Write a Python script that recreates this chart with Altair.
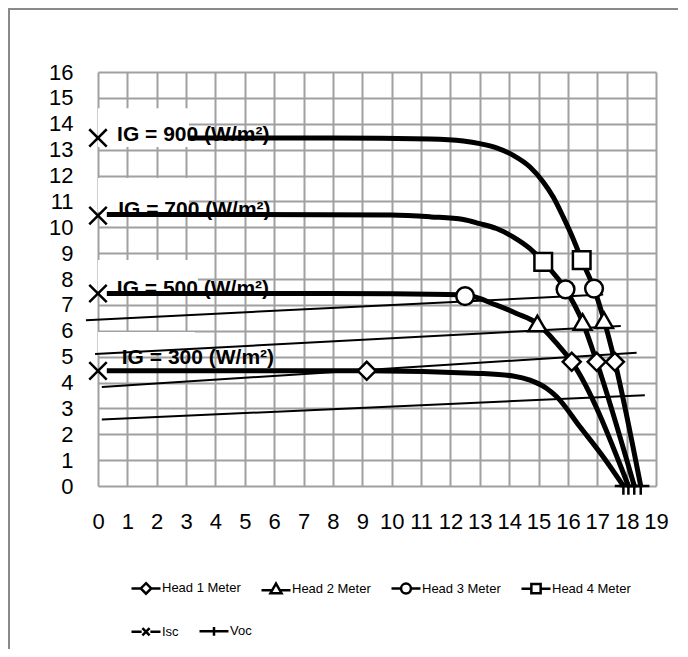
import altair as alt
import pandas as pd

# ---------------- data ----------------
# I-V curves (thick black lines), one per irradiance level
c900_x = [3.07, 5.0, 8.0, 11.3, 12.44, 13.0, 13.57, 14.14, 14.71, 15.16, 15.5, 15.84, 16.2, 16.47, 16.89, 17.23, 17.6, 18.48]
c900_y = [13.45, 13.45, 13.45, 13.41, 13.33, 13.23, 13.07, 12.78, 12.33, 11.75, 11.17, 10.4, 9.5, 8.73, 7.63, 6.41, 4.8, 0.0]
c700_x = [0.3, 5.0, 10.0, 11.34, 12.44, 13.0, 13.57, 14.13, 14.7, 15.16, 15.92, 16.5, 16.98, 18.26]
c700_y = [10.49, 10.49, 10.47, 10.4, 10.3, 10.14, 9.95, 9.63, 9.18, 8.66, 7.6, 6.34, 4.8, 0.0]
c500_x = [0.3, 5.0, 10.0, 12.5, 13.57, 14.25, 14.96, 15.62, 16.13, 18.06]
c500_y = [7.44, 7.44, 7.43, 7.38, 6.99, 6.67, 6.28, 5.51, 4.8, 0.0]
c300_x = [0.3, 5.0, 9.15, 13.0, 14.13, 14.71, 15.28, 15.62, 16.41, 17.2, 17.89]
c300_y = [4.45, 4.45, 4.45, 4.35, 4.25, 4.09, 3.77, 3.45, 2.29, 1.13, 0.0]

# thin straight (load) lines
load_x0 = [0.13, 0.13, -0.1, -0.41]
load_y0 = [2.57, 3.83, 5.1, 6.41]
load_x1 = [18.62, 18.34, 17.8, 17.2]
load_y1 = [3.51, 5.15, 6.18, 7.4]

# marker series
head_names = ["Head 1 Meter", "Head 2 Meter", "Head 3 Meter", "Head 4 Meter"]
ref_names = ["Isc", "Voc"]
h1_x = [9.15, 16.13, 16.98, 17.6]
h1_y = [4.45, 4.8, 4.8, 4.8]
h2_x = [14.96, 16.5, 17.23]
h2_y = [6.28, 6.34, 6.41]
h3_x = [12.5, 15.92, 16.89]
h3_y = [7.34, 7.6, 7.63]
h4_x = [15.16, 16.47]
h4_y = [8.66, 8.73]
isc_x = [0, 0, 0, 0]
isc_y = [4.45, 7.44, 10.45, 13.45]
voc_x = [17.89, 18.06, 18.26, 18.48]
voc_y = [0, 0, 0, 0]

# irradiance labels
ig_text = ["IG = 900 (W/m²)", "IG = 700 (W/m²)", "IG = 500 (W/m²)", "IG = 300 (W/m²)"]
ig_x = [0.65, 0.69, 0.64, 0.81]
ig_y = [13.32, 10.42, 7.37, 4.71]
box_x0 = [0.0, 0.0, 0.0, 0.0]
box_x1 = [3.1, 3.1, 3.4, 3.3]
box_y0 = [13.1, 10.6, 7.52, 5.05]
box_y1 = [14.6, 11.9, 8.73, 5.95]

x_ticks = list(range(0, 20))
y_ticks = list(range(0, 17))

# ---------------- tables ----------------
curves = pd.concat([
    pd.DataFrame({"curve": "900", "x": c900_x, "y": c900_y}),
    pd.DataFrame({"curve": "700", "x": c700_x, "y": c700_y}),
    pd.DataFrame({"curve": "500", "x": c500_x, "y": c500_y}),
    pd.DataFrame({"curve": "300", "x": c300_x, "y": c300_y}),
])
loads = pd.concat([
    pd.DataFrame({"line": i, "x": [load_x0[i], load_x1[i]], "y": [load_y0[i], load_y1[i]]})
    for i in range(4)
])
markers = pd.concat([
    pd.DataFrame({"series": "Head 1 Meter", "x": h1_x, "y": h1_y}),
    pd.DataFrame({"series": "Head 2 Meter", "x": h2_x, "y": h2_y}),
    pd.DataFrame({"series": "Head 3 Meter", "x": h3_x, "y": h3_y}),
    pd.DataFrame({"series": "Head 4 Meter", "x": h4_x, "y": h4_y}),
    pd.DataFrame({"series": "Isc", "x": isc_x, "y": isc_y}),
    pd.DataFrame({"series": "Voc", "x": voc_x, "y": voc_y}),
])
labels = pd.DataFrame({"text": ig_text, "x": ig_x, "y": ig_y})
boxes = pd.DataFrame({"x0": box_x0, "x1": box_x1, "y0": box_y0, "y1": box_y1})

# ---------------- encodings ----------------
AXIS_FONT = "Liberation Sans"
LEG_FONT = "Liberation Sans"

x_scale = alt.Scale(domain=[0, 19], nice=False, zero=False)
y_scale = alt.Scale(domain=[0, 16], nice=False, zero=False)
x_axis = alt.Axis(values=x_ticks, title=None, grid=True, gridColor="#a0a0a0", gridWidth=2,
                  domain=False, ticks=False, tickSize=0, labelPadding=25, labelFont=AXIS_FONT,
                  labelFontSize=22, labelColor="black", format="d", labelFlush=False,
                  labelOverlap=False)
y_axis = alt.Axis(values=y_ticks, title=None, grid=True, gridColor="#a0a0a0", gridWidth=2,
                  domain=False, ticks=False, tickSize=0, labelPadding=25, labelFont=AXIS_FONT,
                  labelFontSize=22, labelColor="black", format="d", labelFlush=False,
                  labelOverlap=False)
X = alt.X("x:Q", scale=x_scale, axis=x_axis)
Y = alt.Y("y:Q", scale=y_scale, axis=y_axis)

# frame around the whole figure
frame = alt.Chart(pd.DataFrame({"a": [0]})).mark_rect(
    filled=False, stroke="#8a8a8a", strokeWidth=2
).encode(x=alt.value(-89), x2=alt.value(800), y=alt.value(-63), y2=alt.value(800))

box_layer = alt.Chart(boxes).mark_rect(fill="white", stroke=None).encode(
    x=alt.X("x0:Q", scale=x_scale, axis=x_axis), x2="x1:Q",
    y=alt.Y("y0:Q", scale=y_scale, axis=y_axis), y2="y1:Q")

text_layer = alt.Chart(labels).mark_text(
    align="left", baseline="alphabetic", font=AXIS_FONT, fontSize=21,
    fontWeight="bold", color="black"
).encode(x=X, y=Y, text="text:N")

load_layer = alt.Chart(loads).mark_line(color="black", strokeWidth=2).encode(
    x=X, y=Y, detail="line:N")

curve_layer = alt.Chart(curves).mark_line(
    color="black", strokeWidth=5, interpolate="monotone", strokeCap="butt"
).encode(x=X, y=Y, detail="curve:N")

all_names = head_names + ref_names
plot_shapes = ["diamond", "triangle-up", "circle", "square",
               "M-1,-1L1,1M-1,1L1,-1", "M-1,0L1,0M0,-0.4L0,1"]
plot_sizes = [324, 300, 256, 240, 196, 196]
plot_widths = [2.5, 2.5, 2.5, 2.5, 3.5, 3.5]

marker_layer = alt.Chart(markers).mark_point(
    filled=True, fill="white", stroke="black", opacity=1
).encode(
    x=X, y=Y,
    shape=alt.Shape("series:N", scale=alt.Scale(domain=all_names, range=plot_shapes), legend=None),
    size=alt.Size("series:N", scale=alt.Scale(domain=all_names, range=plot_sizes), legend=None),
    strokeWidth=alt.StrokeWidth("series:N", scale=alt.Scale(domain=all_names, range=plot_widths), legend=None),
)

head_leg_paths = [
    "M-1,0L-0.36,0M0.36,0L1,0M0,-0.36L0.36,0L0,0.36L-0.36,0Z",
    "M-1,0.1L-0.26,0.1M0.26,0.1L1,0.1M0,-0.36L0.38,0.3L-0.38,0.3Z",
    "M-1,0L-0.34,0M0.34,0L1,0M0.34,0A0.34,0.34,0,1,1,-0.34,0A0.34,0.34,0,1,1,0.34,0Z",
    "M-1,0L-0.32,0M0.32,0L1,0M-0.32,-0.32L0.32,-0.32L0.32,0.32L-0.32,0.32Z",
]
ref_leg_paths = [
    "M-1,0L-0.3,0M0.3,0L1,0M-0.25,-0.25L0.25,0.25M-0.25,0.25L0.25,-0.25",
    "M-1,0L1,0M0,-0.3L0,0.3",
]

def legend(x, y, cols):
    return alt.Legend(orient="none", legendX=x, legendY=y, direction="horizontal",
                      columns=cols, title=None, labelFont=LEG_FONT, labelFontSize=13,
                      labelColor="black", symbolSize=841, symbolStrokeWidth=2.5,
                      symbolOpacity=1, labelOffset=0, columnPadding=15, padding=0)

leg_head = alt.Chart(markers[markers.series.isin(head_names)]).mark_point(
    filled=True, fill="white", stroke="black", strokeWidth=2.5, opacity=0
).encode(
    x=X, y=Y,
    shape=alt.Shape("series:N", scale=alt.Scale(domain=head_names, range=head_leg_paths),
                    legend=legend(32, 500, 4)),
)
leg_ref = alt.Chart(markers[markers.series.isin(ref_names)]).mark_point(
    filled=True, fill="white", stroke="black", strokeWidth=2.5, opacity=0
).encode(
    x=X, y=Y,
    shape=alt.Shape("series:N", scale=alt.Scale(domain=ref_names, range=ref_leg_paths),
                    legend=legend(32, 543, 2)),
)

chart = alt.layer(
    frame, box_layer, text_layer, load_layer, curve_layer, marker_layer, leg_head, leg_ref
).resolve_scale(shape="independent").resolve_legend(shape="independent").properties(
    width=558, height=414,
    padding={"left": 90, "top": 64, "right": 22, "bottom": 163},
    autosize=alt.AutoSizeParams(type="none"),
    background="white",
).configure_view(stroke=None)

chart.save("out.html", embed_options={"renderer": "svg", "actions": False})
